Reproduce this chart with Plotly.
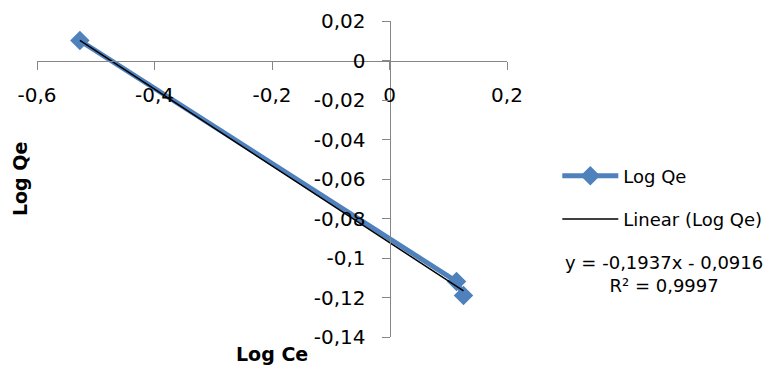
import numpy as np
import plotly.graph_objects as go

# Data
log_ce = [-0.527, 0.114, 0.126]
log_qe = [0.0101, -0.1119, -0.119]

x_tickvals = [-0.6, -0.4, -0.2, 0, 0.2]
x_ticktext = ["-0,6", "-0,4", "-0,2", "0", "0,2"]
y_tickvals = [0.02, 0, -0.02, -0.04, -0.06, -0.08, -0.1, -0.12, -0.14]
y_ticktext = ["0,02", "0", "-0,02", "-0,04", "-0,06", "-0,08", "-0,1", "-0,12", "-0,14"]

equation_text = "y = -0,1937x - 0,0916<br>R² = 0,9997"

# Linear trendline from least squares fit over the data range
slope, intercept = np.polyfit(log_ce, log_qe, 1)
trend_x = [min(log_ce), max(log_ce)]
trend_y = [slope * v + intercept for v in trend_x]

BLUE = "#4F81BD"
AXIS = "#868686"
FONT = "DejaVu Sans"

fig = go.Figure()
fig.add_trace(go.Scatter(
    x=log_ce, y=log_qe, mode="lines+markers", name="Log Qe",
    line=dict(color=BLUE, width=5),
    marker=dict(symbol="diamond", size=15, color=BLUE),
    legendgroup="a",
))
fig.add_trace(go.Scatter(
    x=trend_x, y=trend_y, mode="lines", name="Linear (Log Qe)",
    line=dict(color="black", width=1.5),
    legendgroup="b",
))

axis_common = dict(
    showgrid=False, zeroline=False, showline=True, linecolor=AXIS, linewidth=1,
    ticks="outside", ticklen=8, tickcolor=AXIS, tickwidth=1,
    tickfont=dict(family=FONT, size=20, color="black"),
    anchor="free", automargin=False,
)

# page body has an 8px margin, compensated in the figure margins
fig.update_layout(
    width=772, height=369,
    margin=dict(l=29, r=273, t=13, b=40, autoexpand=False),
    paper_bgcolor="white", plot_bgcolor="white",
    font=dict(family=FONT, size=19, color="black"),
    xaxis=dict(range=[-0.6, 0.2], tickmode="array", tickvals=x_tickvals,
               ticktext=x_ticktext, position=0.875, domain=[0, 1],
               ticklabelstandoff=8, **axis_common),
    yaxis=dict(range=[-0.14, 0.02], tickmode="array", tickvals=y_tickvals,
               ticktext=y_ticktext, position=0.75, domain=[0, 1],
               ticklabelstandoff=12, **axis_common),
    showlegend=True,
    legend=dict(x=1.107, y=0.568, xanchor="left", yanchor="top",
                font=dict(family=FONT, size=18, color="black"),
                traceorder="grouped", tracegroupgap=17, itemwidth=56,
                bgcolor="rgba(0,0,0,0)"),
    annotations=[
        dict(text="<b>Log Ce</b>", xref="paper", yref="paper", x=0.5, y=-0.055,
             showarrow=False, font=dict(family=FONT, size=19, color="black"),
             xanchor="center", yanchor="middle"),
        dict(text="<b>Log Qe</b>", xref="paper", yref="paper", x=-0.036, y=0.5,
             showarrow=False, textangle=-90, font=dict(family=FONT, size=19, color="black"),
             xanchor="center", yanchor="middle"),
        dict(text=equation_text, xref="paper", yref="paper", x=1.334, y=0.2,
             showarrow=False, align="center", font=dict(family=FONT, size=18, color="black"),
             xanchor="center", yanchor="middle"),
    ],
)

fig.write_html("out.html")
